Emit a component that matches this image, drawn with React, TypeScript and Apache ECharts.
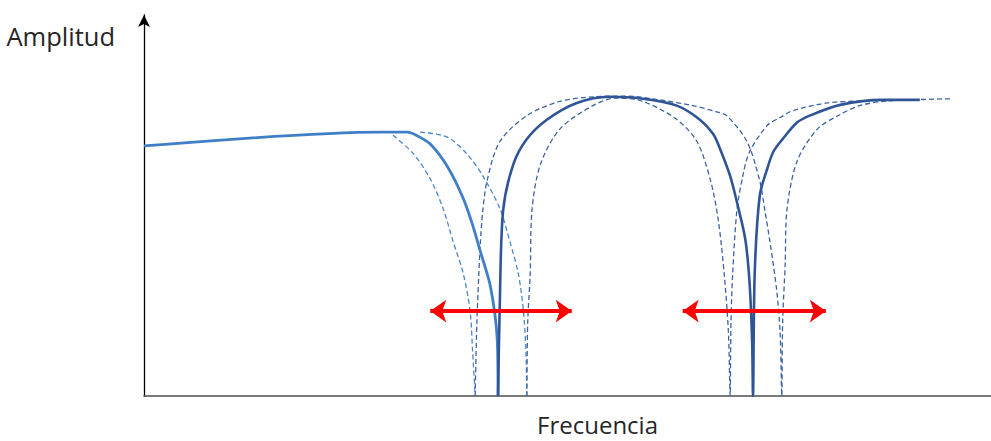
import React, { useEffect, useRef } from "react";
import * as echarts from "echarts";

// Frequency response of a double-notch filter (arbitrary units, 0–100).
// Each point is [frequency, amplitude].

// Solid response, low-frequency part up to the first notch
const lowBand: number[][] = [
  [0, 65.1], [27.9, 68.7], [31.1, 68.7], [32.3, 67.7], [33.8, 65.6], [35.8, 59.8],
  [37.7, 51.4], [38.8, 44.5], [39.7, 37.7], [40.9, 28.5], [41.7, 14.8], [41.8, 0],
];

// Solid response from the first notch through the second notch to the top band
const highBand: number[][] = [
  [41.8, 0], [42.0, 23.4], [42.4, 48.3], [43.6, 60.3], [45.2, 66.9], [47.6, 72.0],
  [51.1, 76.3], [55.0, 77.9], [58.9, 77.4], [62.9, 75.6], [65.6, 72.0], [67.2, 68.2],
  [68.0, 64.4], [69.2, 57.3], [70.1, 49.6], [71.0, 40.7], [71.5, 29.3], [71.8, 14.0],
  [71.9, 0], [72.1, 31.8], [72.7, 52.2], [73.6, 59.3], [74.3, 63.6], [75.4, 66.9],
  [77.1, 71.2], [78.6, 73.0], [82.2, 75.8], [87.2, 77.1], [91.6, 77.1],
];

// Tuned responses: first notch moved down / up
const lowBandDown: number[][] = [
  [29.4, 67.9], [31.8, 63.1], [33.8, 56.5], [35.3, 48.9], [36.5, 40.2],
  [37.7, 31.8], [38.5, 22.1], [38.8, 11.5], [39.1, 0],
];
const lowBandUp: number[][] = [
  [32.6, 68.7], [35.8, 67.4], [38.1, 63.1], [40.0, 57.3], [42.0, 48.9],
  [43.2, 40.2], [44.2, 31.8], [44.8, 22.1], [45.1, 11.5], [45.2, 0],
];

// Wide lobe (notches at 39.1 and 75.3) and its rise to the top band
const highBandWide: number[][] = [
  [39.1, 0], [39.3, 19.1], [39.7, 39.4], [40.0, 48.3], [40.5, 56.0], [42.0, 66.2],
  [45.2, 73.0], [49.1, 76.7], [53.0, 77.9], [57.0, 78.1], [60.9, 77.1], [64.8, 75.6],
  [67.6, 74.0], [68.8, 73.0], [71.2, 66.2], [72.7, 56.0], [73.3, 48.3], [73.9, 40.2],
  [74.7, 27.5], [75.1, 16.5], [75.3, 0], [75.4, 19.1], [75.7, 34.4], [75.9, 48.3],
  [77.1, 61.1], [79.5, 69.5], [82.2, 73.3], [84.5, 75.6], [87.7, 76.8], [95.5, 77.4],
];

// Narrow lobe (notches at 45.2 and 69.2) and its rise to the top band
const highBandNarrow: number[][] = [
  [45.2, 0], [45.3, 19.1], [45.6, 31.8], [45.8, 48.3], [46.8, 60.3], [49.1, 69.5],
  [53.0, 75.6], [55.8, 77.6], [58.9, 76.7], [62.9, 72.0], [65.3, 66.2], [66.9, 56.0],
  [67.8, 45.8], [68.5, 31.8], [69.0, 16.5], [69.2, 0], [69.3, 19.1], [69.5, 31.8],
  [70.0, 48.3], [70.7, 57.3], [71.5, 63.6], [73.6, 70.5], [75.1, 72.5], [76.6, 74.3],
  [80.6, 76.3], [84.5, 76.8], [89.3, 77.1],
];

// Tuning ranges of the two notches, drawn as double arrows
const tuningRanges: number[][] = [
  [33.8, 50.5],
  [63.6, 80.5],
];
const tuningLevel = 22.1;

const axisTitles = { x: "Frecuencia", y: "Amplitud" };

const LIGHT = "#3f7fc7";
const DARK = "#2f5597";
const FONT = "'Open Sans', sans-serif";

export default function App() {
  const ref = useRef<HTMLDivElement>(null);

  useEffect(() => {
    if (!ref.current) return;
    const chart = echarts.init(ref.current, null, { renderer: "svg" });

    const curve = (
      data: number[][],
      color: string,
      width: number,
      dashed: boolean,
      z: number
    ) => ({
      type: "line",
      data,
      smooth: 0.3,
      showSymbol: false,
      symbol: "none",
      z,
      lineStyle: {
        color,
        width,
        type: dashed ? [5, 3] : "solid",
        cap: "butt",
      },
    });

    chart.setOption({
      animation: false,
      grid: { left: 144, right: 0, top: 15, bottom: 36 },
      xAxis: {
        type: "value",
        min: 0,
        max: 100,
        name: axisTitles.x,
        nameLocation: "middle",
        nameGap: 16,
        nameTextStyle: {
          fontFamily: FONT,
          fontSize: 24,
          color: "#262626",
          verticalAlign: "top",
          padding: [0, 0, 0, 60],
        },
        axisLine: { show: true, lineStyle: { color: "#4d4d4d", width: 1.6 } },
        axisTick: { show: false },
        axisLabel: { show: false },
        splitLine: { show: false },
      },
      yAxis: {
        type: "value",
        min: 0,
        max: 99.2,
        name: axisTitles.y,
        nameLocation: "end",
        nameGap: -8,
        nameTextStyle: {
          fontFamily: FONT,
          fontSize: 25.5,
          color: "#262626",
          align: "right",
          verticalAlign: "top",
          padding: [0, 29, 0, 0],
        },
        axisLine: {
          show: true,
          symbol: ["none", "arrow"],
          symbolSize: [9, 12],
          lineStyle: { color: "#000000", width: 1.3 },
        },
        axisTick: { show: false },
        axisLabel: { show: false },
        splitLine: { show: false },
      },
      series: [
        curve(lowBandDown, "#4a86cf", 1.3, true, 2),
        curve(lowBandUp, "#4a86cf", 1.3, true, 2),
        curve(highBandWide, "#3b62a6", 1.3, true, 2),
        curve(highBandNarrow, "#3b62a6", 1.3, true, 2),
        curve(lowBand, LIGHT, 2.8, false, 3),
        curve(highBand, DARK, 2.6, false, 3),
        {
          type: "line",
          data: [],
          z: 5,
          markLine: {
            silent: true,
            symbol: ["arrow", "arrow"],
            symbolSize: [17, 16],
            label: { show: false },
            lineStyle: { color: "#ff0000", width: 4, type: "solid" },
            data: tuningRanges.map(([a, b]) => [
              { coord: [a, tuningLevel] },
              { coord: [b, tuningLevel] },
            ]),
          },
        },
      ],
    });

    return () => chart.dispose();
  }, []);

  return (
    <div
      ref={ref}
      style={{ position: "fixed", left: 0, top: 0, width: 991, height: 441, background: "#ffffff" }}
    />
  );
}
